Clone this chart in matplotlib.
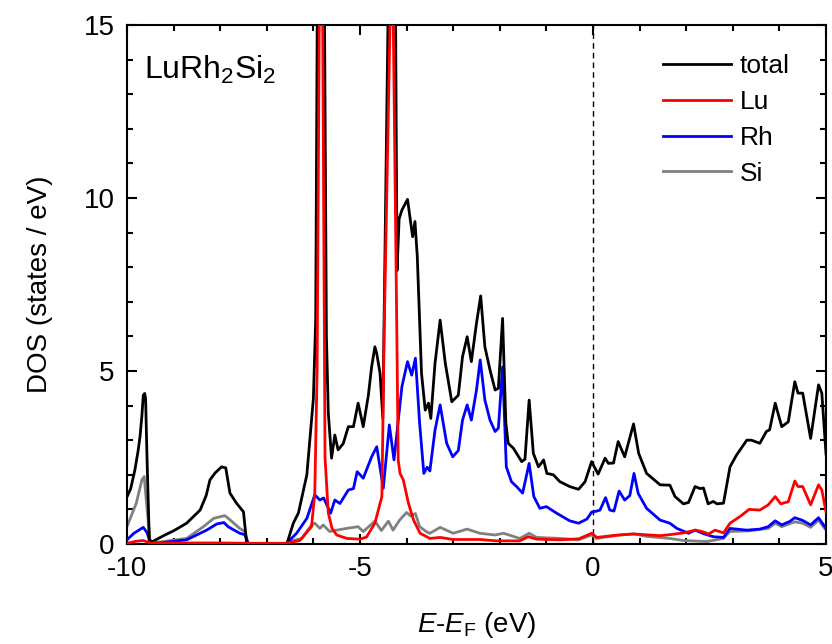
import matplotlib
matplotlib.use('Agg')
import matplotlib.pyplot as plt
from matplotlib.ticker import MultipleLocator

plt.rcParams['font.family'] = ['Liberation Sans', 'DejaVu Sans']
plt.rcParams['mathtext.fontset'] = 'custom'
plt.rcParams['mathtext.rm'] = 'Liberation Sans'
plt.rcParams['mathtext.it'] = 'Liberation Sans:italic'
plt.rcParams['axes.unicode_minus'] = False

# --- data (energy in eV, DOS in states/eV) ---
E_total = [-10.0, -9.92, -9.83, -9.76, -9.72, -9.68, -9.65, -9.62, -9.6, -9.57, -9.52,
           -9.45, -9.2, -9.0, -8.72, -8.43, -8.3, -8.22, -8.11,
           -7.97, -7.88, -7.79, -7.65, -7.5, -7.43, -6.57, -6.43, -6.32, -6.14, -6.0,
           -5.95, -5.917, -5.84, -5.76, -5.72, -5.68, -5.61, -5.54, -5.47, -5.36, -5.25,
           -5.14, -5.04, -4.93, -4.82, -4.75, -4.68, -4.64, -4.57, -4.51, -4.40, -4.31,
           -4.235, -4.205, -4.16, -4.1, -3.98, -3.87, -3.82, -3.77, -3.68, -3.6, -3.53,
           -3.48, -3.39, -3.28, -3.17, -3.03, -2.89, -2.8, -2.7, -2.61, -2.5, -2.41,
           -2.32, -2.21, -2.1, -2.03, -1.94, -1.87, -1.82, -1.71, -1.53, -1.46, -1.37,
           -1.28, -1.17, -1.06, -0.99, -0.85, -0.71, -0.5, -0.31, -0.17, -0.03, 0.11,
           0.26, 0.33, 0.44, 0.54, 0.68, 0.87, 0.98, 1.15, 1.44, 1.65, 1.76, 1.94,
           2.05, 2.19, 2.3, 2.37, 2.47, 2.58, 2.66, 2.8, 2.94, 3.08, 3.3, 3.4, 3.58,
           3.72, 3.79, 3.91, 4.05, 4.19, 4.33, 4.4, 4.5, 4.67, 4.84, 4.91, 4.98, 5.0]
D_total = [1.36, 1.6, 2.14, 2.7, 3.1, 3.7, 4.3, 4.35, 4.2, 2.5, 0.1,
           0.07, 0.25, 0.38, 0.6, 0.98, 1.4, 1.85, 2.05,
           2.23, 2.2, 1.47, 1.18, 0.93, 0.0, 0.0, 0.6, 0.9, 2.0, 4.2,
           6.5, 15.0, 45.0, 15.0, 6.0, 3.8, 2.48, 3.15, 2.72, 2.9, 3.39,
           3.39, 4.07, 3.39, 4.3, 5.12, 5.7, 5.5, 4.94, 3.64, 15.0, 45.0,
           15.0, 7.9, 9.4, 9.65, 9.96, 8.88, 9.32, 8.3, 4.94, 3.87, 4.07,
           3.63, 5.22, 6.47, 5.23, 4.11, 4.3, 5.41, 5.99, 5.27, 6.38, 7.17,
           5.7, 5.03, 4.45, 4.5, 6.52, 3.49, 2.91, 2.77, 2.38, 2.45, 4.16,
           2.62, 2.23, 2.43, 2.04, 2.0, 1.8, 1.66, 1.58, 1.8, 2.38, 2.02,
           2.48, 2.33, 2.34, 2.96, 2.52, 3.47, 2.62, 2.04, 1.71, 1.7, 1.37, 1.16,
           1.2, 1.66, 1.6, 1.62, 1.16, 1.23, 1.16, 1.18, 2.23, 2.57, 3.0, 3.0, 2.91,
           3.25, 3.3, 4.07, 3.39, 3.53, 4.69, 4.36, 4.36, 3.05, 4.6, 4.36, 3.0, 2.6]

E_Lu = [-10.0, -9.8, -9.65, -9.5, -9.0, -8.0, -7.4, -6.6, -6.29, -6.04, -5.97, -5.92,
        -5.874, -5.84, -5.80, -5.75, -5.68, -5.6, -5.5, -5.28, -5.0, -4.86, -4.68, -4.53,
        -4.48, -4.356, -4.32, -4.285, -4.21, -4.18, -4.14, -4.07, -3.96, -3.85, -3.71,
        -3.5, -3.28, -3.0, -2.43, -2.07, -1.57, -1.39, -1.21, -0.7, -0.3, -0.03, 0.08,
        0.47, 0.87, 1.44, 1.65, 1.94, 2.2, 2.34, 2.48, 2.62, 2.8, 2.94, 3.15, 3.35,
        3.58, 3.76, 3.91, 4.03, 4.19, 4.33, 4.4, 4.5, 4.67, 4.84, 4.91, 5.0]
D_Lu = [0.02, 0.08, 0.1, 0.03, 0.03, 0.03, 0.02, 0.02, 0.1, 0.5, 1.47, 5.0,
        15.0, 45.0, 15.0, 2.5, 0.9, 0.45, 0.26, 0.16, 0.14, 0.2, 0.6, 1.37,
        6.2, 15.0, 45.0, 15.0, 6.2, 2.43, 2.04, 1.85, 1.18, 0.69, 0.31,
        0.16, 0.19, 0.13, 0.13, 0.09, 0.09, 0.21, 0.14, 0.12, 0.15, 0.31, 0.19,
        0.25, 0.29, 0.24, 0.27, 0.32, 0.4, 0.36, 0.29, 0.4, 0.32, 0.6, 0.79, 1.0,
        0.98, 1.13, 1.37, 1.16, 1.22, 1.82, 1.66, 1.66, 1.13, 1.71, 1.56, 0.93]

E_Rh = [-10.0, -9.85, -9.65, -9.57, -9.49, -8.72, -8.29, -8.07, -7.92, -7.83, -7.58,
        -7.47, -7.4, -6.6, -6.5, -6.36, -6.14, -5.97, -5.86, -5.78, -5.63, -5.54,
        -5.43, -5.25, -5.14, -5.06, -4.93, -4.75, -4.64, -4.5, -4.37, -4.27, -4.1,
        -3.98, -3.89, -3.81, -3.72, -3.63, -3.56, -3.5, -3.39, -3.28, -3.14, -3.01,
        -2.89, -2.8, -2.7, -2.61, -2.5, -2.42, -2.32, -2.21, -2.1, -2.03, -1.94,
        -1.86, -1.75, -1.64, -1.51, -1.37, -1.27, -1.14, -1.0, -0.78, -0.5, -0.31,
        -0.13, -0.03, 0.08, 0.15, 0.27, 0.36, 0.45, 0.56, 0.68, 0.79, 0.88, 0.97,
        1.15, 1.44, 1.65, 1.8, 2.05, 2.19, 2.37, 2.58, 2.8, 2.94, 3.3, 3.58, 3.76,
        3.91, 4.05, 4.22, 4.33, 4.5, 4.67, 4.84, 5.0]
D_Rh = [0.12, 0.31, 0.48, 0.33, 0.0, 0.12, 0.4, 0.58, 0.62, 0.5, 0.31,
        0.27, 0.02, 0.0, 0.12, 0.31, 0.74, 1.42, 1.27, 1.33, 0.89, 1.27,
        1.17, 1.56, 1.6, 2.09, 1.9, 2.52, 2.81, 1.61, 3.44, 2.43, 4.55,
        5.27, 4.88, 5.37, 3.49, 2.04, 2.22, 2.11, 3.29, 4.02, 2.91, 2.52,
        2.7, 3.58, 4.02, 3.58, 4.45, 5.32, 4.16, 3.58, 3.25, 3.35, 5.12,
        2.23, 1.8, 1.66, 1.47, 2.33, 1.37, 1.03, 1.08, 0.89, 0.67, 0.6,
        0.72, 0.92, 0.95, 0.98, 1.34, 0.98, 0.95, 1.53, 1.27, 1.4, 2.04, 1.46,
        1.03, 0.69, 0.6, 0.45, 0.31, 0.4, 0.3, 0.21, 0.19, 0.45, 0.4, 0.43, 0.5,
        0.67, 0.55, 0.65, 0.76, 0.68, 0.55, 0.76, 0.45]

E_Si = [-10.0, -9.8, -9.68, -9.63, -9.58, -9.5, -8.72, -8.36, -8.14, -7.9, -7.79,
        -7.58, -7.47, -7.4, -6.6, -6.43, -6.25, -6.04, -5.97, -5.86, -5.79, -5.65,
        -5.54, -5.29, -5.04, -4.93, -4.68, -4.54, -4.39, -4.29, -4.15, -4.0, -3.91,
        -3.81, -3.72, -3.58, -3.5, -3.28, -3.0, -2.7, -2.43, -2.1, -1.92, -1.57,
        -1.37, -1.21, -0.7, -0.31, -0.03, 0.08, 0.56, 0.88, 1.15, 1.65, 1.94, 2.44,
        2.8, 2.94, 3.35, 3.76, 3.91, 4.05, 4.33, 4.5, 4.67, 4.84, 5.0]
D_Si = [0.5, 1.18, 1.85, 1.95, 1.18, 0.02, 0.16, 0.5, 0.74, 0.82, 0.7,
        0.45, 0.36, 0.0, 0.0, 0.1, 0.16, 0.55, 0.6, 0.45, 0.55, 0.36,
        0.39, 0.45, 0.5, 0.36, 0.66, 0.39, 0.66, 0.4, 0.69, 0.91, 0.81,
        0.88, 0.5, 0.36, 0.31, 0.48, 0.31, 0.43, 0.31, 0.26, 0.31, 0.16,
        0.31, 0.19, 0.16, 0.12, 0.26, 0.16, 0.26, 0.29, 0.22, 0.16, 0.1, 0.07,
        0.16, 0.36, 0.38, 0.45, 0.6, 0.5, 0.64, 0.6, 0.48, 0.69, 0.4]

fig = plt.figure(figsize=(8.32, 6.44), dpi=100)
ax = fig.add_axes([0.1526, 0.1553, 0.8402, 0.8059])

lw = 2.0
ax.plot(E_total, D_total, color='black', lw=lw, label='total', zorder=4)
ax.plot(E_Lu, D_Lu, color='red', lw=lw, label='Lu', zorder=5)
ax.plot(E_Rh, D_Rh, color='blue', lw=lw, label='Rh', zorder=3)
ax.plot(E_Si, D_Si, color='grey', lw=lw, label='Si', zorder=2)
ax.axvline(0, color='black', ls=(0, (4, 3)), lw=1.0, zorder=1)

ax.set_xlim(-10, 5)
ax.set_ylim(0, 15)
ax.xaxis.set_major_locator(MultipleLocator(5))
ax.xaxis.set_minor_locator(MultipleLocator(1))
ax.yaxis.set_major_locator(MultipleLocator(5))
ax.yaxis.set_minor_locator(MultipleLocator(1))
ax.tick_params(which='both', direction='in', top=True, right=True, width=1.5, labelsize=20)
ax.tick_params(which='major', length=7, pad=9)
ax.tick_params(which='minor', length=4)
for s in ax.spines.values():
    s.set_linewidth(1.5)

ax.set_xlabel(r'$E$-$E_\mathrm{F}$ (eV)', fontsize=20, labelpad=20)
ax.set_ylabel('DOS (states / eV)', fontsize=20, labelpad=22)
ax.text(0.025, 0.945, r'LuRh$_2$Si$_2$', transform=ax.transAxes, fontsize=23, va='top')

ax.legend(loc='upper right', frameon=False, fontsize=19, handlelength=2.55,
          handletextpad=0.35, labelspacing=0.45, borderaxespad=0.7,
          bbox_to_anchor=(0.99, 1.0))

fig.savefig('out.png', dpi=100)
